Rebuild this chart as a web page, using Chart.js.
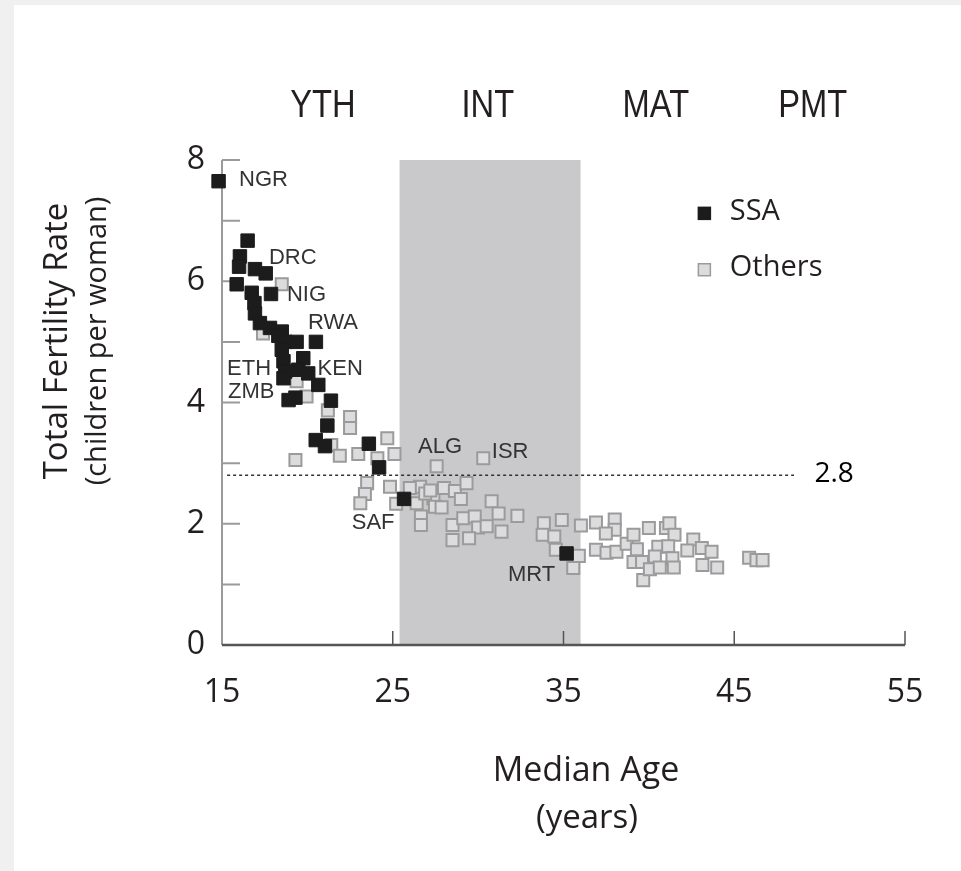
<!DOCTYPE html>
<html>
<head>
<meta charset="utf-8">
<script src="https://cdn.jsdelivr.net/npm/chart.js@4"></script>
<style>
  html, body { margin: 0; padding: 0; background: #fff; }
</style>
</head>
<body>
<canvas id="myChart" width="961" height="871"></canvas>
<script>
// median age (years) vs total fertility rate (children per woman)
const ssaAge = [14.8, 16.5, 16.05, 16.0, 16.93, 17.56, 15.86, 16.74, 17.87, 16.9, 16.93, 17.22, 17.81,
  18.5, 18.3, 18.7, 19.37, 20.5, 18.5, 19.76, 18.6, 18.7, 19.47, 20.05, 18.6, 20.64, 19.3, 18.9,
  21.38, 21.17, 20.49, 21.03, 23.6, 24.2, 25.66, 35.18]
const ssaTfr = [7.65, 6.67, 6.41, 6.24, 6.2, 6.13, 5.95, 5.81, 5.79, 5.64, 5.47, 5.31, 5.23,
  5.17, 5.1, 5.0, 5.0, 5.0, 4.87, 4.73, 4.68, 4.51, 4.54, 4.48, 4.40, 4.29, 4.08, 4.04,
  4.03, 3.62, 3.38, 3.28, 3.32, 2.93, 2.41, 1.51]

const otherAge = [18.5, 17.4, 19.37, 19.95, 21.2, 22.5, 22.5, 21.4, 24.68, 19.3, 21.9, 22.98, 24.1, 25.1,
  23.5, 23.37, 23.1, 24.84, 25.2, 27.57, 30.3, 26.6, 26.0, 26.4, 27.38, 27.47, 28.0, 27.86, 28.64,
  29.32, 28.99, 26.65, 26.65, 28.5, 29.13, 29.8, 30.0, 30.5, 30.79, 31.2, 31.37, 32.3, 28.5, 29.47,
  26.9, 27.2, 33.85, 34.9, 33.78, 34.46, 34.55, 35.9, 35.57, 36.02, 36.9, 38.0, 38.0, 37.48, 36.9,
  37.52, 38.1, 38.7, 39.1, 40.0, 41.0, 41.2, 41.5, 39.3, 39.1, 39.6, 39.67, 40.06, 40.55, 41.13,
  40.35, 40.64, 41.38, 41.46, 42.6, 42.25, 43.1, 43.67, 43.14, 44.0, 45.87, 46.3, 46.66]
const otherTfr = [5.95, 5.14, 4.35, 4.10, 3.87, 3.76, 3.58, 3.3, 3.41, 3.05, 3.12, 3.15, 3.08, 3.15,
  2.67, 2.49, 2.34, 2.61, 2.33, 2.95, 3.08, 2.61, 2.59, 2.34, 2.42, 2.28, 2.59, 2.27, 2.54,
  2.67, 2.41, 2.12, 1.98, 1.98, 2.09, 2.12, 1.94, 1.96, 2.37, 2.17, 1.87, 2.13, 1.73, 1.76,
  2.5, 2.55, 2.01, 2.06, 1.82, 1.79, 1.57, 1.47, 1.27, 1.97, 2.02, 2.07, 1.9, 1.84, 1.57,
  1.52, 1.54, 1.67, 1.82, 1.93, 1.93, 2.01, 1.82, 1.58, 1.37, 1.37, 1.07, 1.25, 1.62, 1.63,
  1.46, 1.28, 1.43, 1.28, 1.74, 1.56, 1.6, 1.54, 1.32, 1.28, 1.44, 1.4, 1.4]

// country codes written next to their points
const codeNames = ['NGR', 'DRC', 'NIG', 'RWA', 'ETH', 'KEN', 'ZMB', 'SAF', 'ALG', 'ISR', 'MRT']
const codeAge = [16.0, 17.75, 18.8, 20.03, 15.3, 20.6, 15.35, 22.6, 26.48, 30.8, 31.75]
const codeTfr = [7.67, 6.39, 5.78, 5.31, 4.55, 4.55, 4.17, 2.01, 3.27, 3.19, 1.15]

// age-structure stages across the top
const stageNames = ['YTH', 'INT', 'MAT', 'PMT']
const stageAge = [20.91, 30.57, 40.41, 49.6]
const intermediateBand = [25.4, 36.0]

const xTicks = [15, 25, 35, 45, 55]
const yTicks = [0, 2, 4, 6, 8]
const replacementTfr = 2.8

const BLACK = '#1c1c1c'
const LIGHT = '#dcdcde'
const LIGHT_EDGE = '#9b9b9b'
const TEXT = '#231f20'
const SANS = "'Open Sans', sans-serif"

function toPoints(xs, ys) {
  return xs.map((v, i) => ({ x: v, y: ys[i] }))
}

const drawFrame = {
  id: 'drawFrame',
  beforeDraw(chart) {
    const { ctx, scales: { x, y } } = chart
    ctx.save()
    ctx.fillStyle = '#f0f0f0'
    ctx.fillRect(0, 0, chart.width, chart.height)
    ctx.fillStyle = '#fff'
    ctx.fillRect(14, 5, chart.width - 14, chart.height - 5)

    // INT band
    const bx0 = x.getPixelForValue(intermediateBand[0])
    const bx1 = x.getPixelForValue(intermediateBand[1])
    const top = y.getPixelForValue(8), bottom = y.getPixelForValue(0)
    ctx.fillStyle = '#c9c9cb'
    ctx.fillRect(bx0, top, bx1 - bx0, bottom - top)

    // y axis with inward ticks
    const x0 = x.getPixelForValue(15)
    ctx.strokeStyle = '#9a9a9a'
    ctx.lineWidth = 2
    ctx.beginPath()
    ctx.moveTo(x0, top)
    ctx.lineTo(x0, bottom)
    for (let v = 1; v <= 8; v++) {
      const py = y.getPixelForValue(v)
      ctx.moveTo(x0, py)
      ctx.lineTo(x0 + 18, py)
    }
    ctx.stroke()

    // x axis with upward ticks
    ctx.strokeStyle = '#555'
    ctx.lineWidth = 2.5
    ctx.beginPath()
    ctx.moveTo(x0, bottom)
    ctx.lineTo(x.getPixelForValue(55), bottom)
    ctx.stroke()
    ctx.lineWidth = 1.5
    ctx.beginPath()
    xTicks.slice(1).forEach(v => {
      const px = x.getPixelForValue(v)
      ctx.moveTo(px, bottom)
      ctx.lineTo(px, bottom - 14)
    })
    ctx.stroke()

    // dotted 2.8 level
    const py = y.getPixelForValue(replacementTfr)
    ctx.strokeStyle = '#333'
    ctx.lineWidth = 1.5
    ctx.setLineDash([3, 3])
    ctx.beginPath()
    ctx.moveTo(x.getPixelForValue(15.3), py)
    ctx.lineTo(x.getPixelForValue(48.5), py)
    ctx.stroke()
    ctx.setLineDash([])

    // tick labels
    ctx.fillStyle = TEXT
    ctx.font = '32px ' + SANS
    ctx.textAlign = 'center'
    ctx.textBaseline = 'middle'
    xTicks.forEach(v => ctx.fillText(String(v), x.getPixelForValue(v), bottom + 48))
    ctx.textAlign = 'right'
    yTicks.forEach(v => ctx.fillText(String(v), x0 - 17, y.getPixelForValue(v)))

    // axis titles
    ctx.textAlign = 'center'
    ctx.font = '34px ' + SANS
    ctx.fillText('Median Age', 586, 771)
    ctx.font = '33px ' + SANS
    ctx.fillText('(years)', 587, 819)
    ctx.save()
    ctx.translate(58, 341)
    ctx.rotate(-Math.PI / 2)
    ctx.font = '33px ' + SANS
    ctx.fillText('Total Fertility Rate', 0, 0)
    ctx.font = '29px ' + SANS
    ctx.fillText('(children per woman)', 0, 40)
    ctx.restore()
    ctx.restore()
  },
  afterDraw(chart) {
    const { ctx, scales: { x, y } } = chart
    ctx.save()
    ctx.textBaseline = 'middle'

    // country codes
    ctx.fillStyle = '#333'
    ctx.font = "22px 'Liberation Sans', Arial, sans-serif"
    ctx.textAlign = 'left'
    codeNames.forEach((name, i) => {
      ctx.fillText(name, x.getPixelForValue(codeAge[i]), y.getPixelForValue(codeTfr[i]))
    })

    // stage names, slightly condensed
    ctx.fillStyle = TEXT
    ctx.font = "38px 'Liberation Sans', Arial, sans-serif"
    ctx.textAlign = 'center'
    stageNames.forEach((name, i) => {
      ctx.save()
      ctx.translate(x.getPixelForValue(stageAge[i]), y.getPixelForValue(8.88))
      ctx.scale(0.86, 1)
      ctx.fillText(name, 0, 0)
      ctx.restore()
    })

    // 2.8 value
    ctx.fillStyle = '#000'
    ctx.font = '28px ' + SANS
    ctx.fillText(String(replacementTfr), x.getPixelForValue(50.85), y.getPixelForValue(replacementTfr) - 1)

    // legend
    const legend = [
      { name: 'SSA', fill: BLACK, edge: BLACK, ly: 7.12 },
      { name: 'Others', fill: LIGHT, edge: LIGHT_EDGE, ly: 6.19 }
    ]
    ctx.textAlign = 'left'
    ctx.font = '29px ' + SANS
    legend.forEach(item => {
      const mx = x.getPixelForValue(43.25), my = y.getPixelForValue(item.ly)
      ctx.fillStyle = item.fill
      ctx.strokeStyle = item.edge
      ctx.lineWidth = 1.5
      ctx.fillRect(mx - 6, my - 6, 12, 12)
      ctx.strokeRect(mx - 6, my - 6, 12, 12)
      ctx.fillStyle = TEXT
      ctx.fillText(item.name, x.getPixelForValue(44.74), my - 2)
    })
    ctx.restore()
  }
}

const ctx = document.getElementById('myChart').getContext('2d')
const chart = new Chart(ctx, {
  type: 'scatter',
  data: {
    datasets: [
      {
        label: 'Others',
        data: toPoints(otherAge, otherTfr),
        pointStyle: 'rect',
        pointRadius: 8.5,
        backgroundColor: LIGHT,
        borderColor: LIGHT_EDGE,
        borderWidth: 2,
        clip: false,
        order: 2
      },
      {
        label: 'SSA',
        data: toPoints(ssaAge, ssaTfr),
        pointStyle: 'rect',
        pointRadius: 9.5,
        backgroundColor: BLACK,
        borderColor: BLACK,
        borderWidth: 1,
        clip: false,
        order: 1
      }
    ]
  },
  options: {
    responsive: false,
    animation: false,
    layout: { padding: { left: 222, right: 56, top: 160, bottom: 226 } },
    scales: {
      x: { type: 'linear', min: 15, max: 55, display: false },
      y: { type: 'linear', min: 0, max: 8, display: false }
    },
    plugins: {
      legend: { display: false },
      tooltip: { enabled: false }
    }
  },
  plugins: [drawFrame]
})
</script>
</body>
</html>
